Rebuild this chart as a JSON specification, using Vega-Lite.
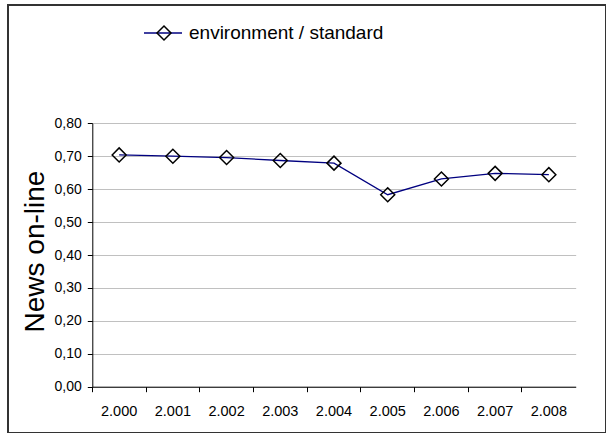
{
  "$schema": "https://vega.github.io/schema/vega-lite/v6.json",
  "width": 598,
  "height": 428,
  "autosize": "none",
  "padding": {"left": 8, "top": 5, "right": 0, "bottom": 0},
  "background": "white",
  "config": {
    "font": "Liberation Sans",
    "view": {"stroke": "#333333", "strokeWidth": 2}
  },
  "data": {
    "values": [
      {"year": "2.000", "value": 0.704, "series": "environment / standard", "marker": "environment / standard"},
      {"year": "2.001", "value": 0.700, "series": "environment / standard", "marker": "environment / standard"},
      {"year": "2.002", "value": 0.696, "series": "environment / standard", "marker": "environment / standard"},
      {"year": "2.003", "value": 0.687, "series": "environment / standard", "marker": "environment / standard"},
      {"year": "2.004", "value": 0.679, "series": "environment / standard", "marker": "environment / standard"},
      {"year": "2.005", "value": 0.583, "series": "environment / standard", "marker": "environment / standard"},
      {"year": "2.006", "value": 0.631, "series": "environment / standard", "marker": "environment / standard"},
      {"year": "2.007", "value": 0.648, "series": "environment / standard", "marker": "environment / standard"},
      {"year": "2.008", "value": 0.644, "series": "environment / standard", "marker": "environment / standard"}
    ]
  },
  "encoding": {
    "x": {
      "field": "year",
      "type": "ordinal",
      "scale": {"type": "band", "range": [84.3, 567.7], "paddingInner": 0, "paddingOuter": 0},
      "axis": {
        "title": null,
        "orient": "bottom",
        "offset": -46.3,
        "bandPosition": 0,
        "labelAngle": 0,
        "labelFontSize": 14.5,
        "labelColor": "#000000",
        "labelPadding": 13,
        "labelBaseline": "top",
        "tickSize": 5,
        "tickColor": "#000000",
        "domainColor": "#000000",
        "grid": false
      }
    },
    "y": {
      "field": "value",
      "type": "quantitative",
      "scale": {"domain": [0, 0.8], "range": [381.7, 118.3], "nice": false, "zero": true},
      "axis": {
        "title": "News on-line",
        "titleFontSize": 28,
        "titleFontWeight": "normal",
        "titleColor": "#000000",
        "titleX": -57,
        "titleY": 246,
        "titleAngle": -90,
        "titleAlign": "center",
        "titleBaseline": "middle",
        "offset": -84.3,
        "values": [0, 0.1, 0.2, 0.3, 0.4, 0.5, 0.6, 0.7, 0.8],
        "labelExpr": "replace(format(datum.value, '.2f'), '.', ',')",
        "labelFontSize": 14,
        "labelColor": "#000000",
        "labelPadding": 6,
        "tickSize": 5,
        "tickColor": "#000000",
        "domainColor": "#000000",
        "grid": true,
        "gridColor": "#c0c0c0",
        "gridWidth": 1
      }
    }
  },
  "layer": [
    {
      "mark": {"type": "line", "strokeWidth": 1.3},
      "encoding": {
        "stroke": {
          "field": "series",
          "type": "nominal",
          "scale": {"range": ["#000080"]},
          "legend": {
            "title": null,
            "orient": "none",
            "legendX": 135,
            "legendY": 8,
            "padding": 0,
            "symbolType": "stroke",
            "symbolSize": 1444,
            "symbolStrokeWidth": 1.3,
            "labelFontSize": 19,
            "labelColor": "#000000",
            "labelOffset": 6,
            "labelLimit": 400
          }
        }
      }
    },
    {
      "mark": {"type": "point", "filled": false, "stroke": "#000000", "strokeWidth": 1.5, "size": 196, "opacity": 1},
      "encoding": {
        "shape": {
          "field": "marker",
          "type": "nominal",
          "scale": {"range": ["diamond"]},
          "legend": {
            "title": null,
            "orient": "none",
            "legendX": 148,
            "legendY": 20,
            "padding": 0,
            "symbolSize": 196,
            "symbolStrokeColor": "#000000",
            "symbolFillColor": "transparent",
            "symbolStrokeWidth": 1.5,
            "labelExpr": "''",
            "labelFontSize": 1
          }
        }
      }
    }
  ]
}
